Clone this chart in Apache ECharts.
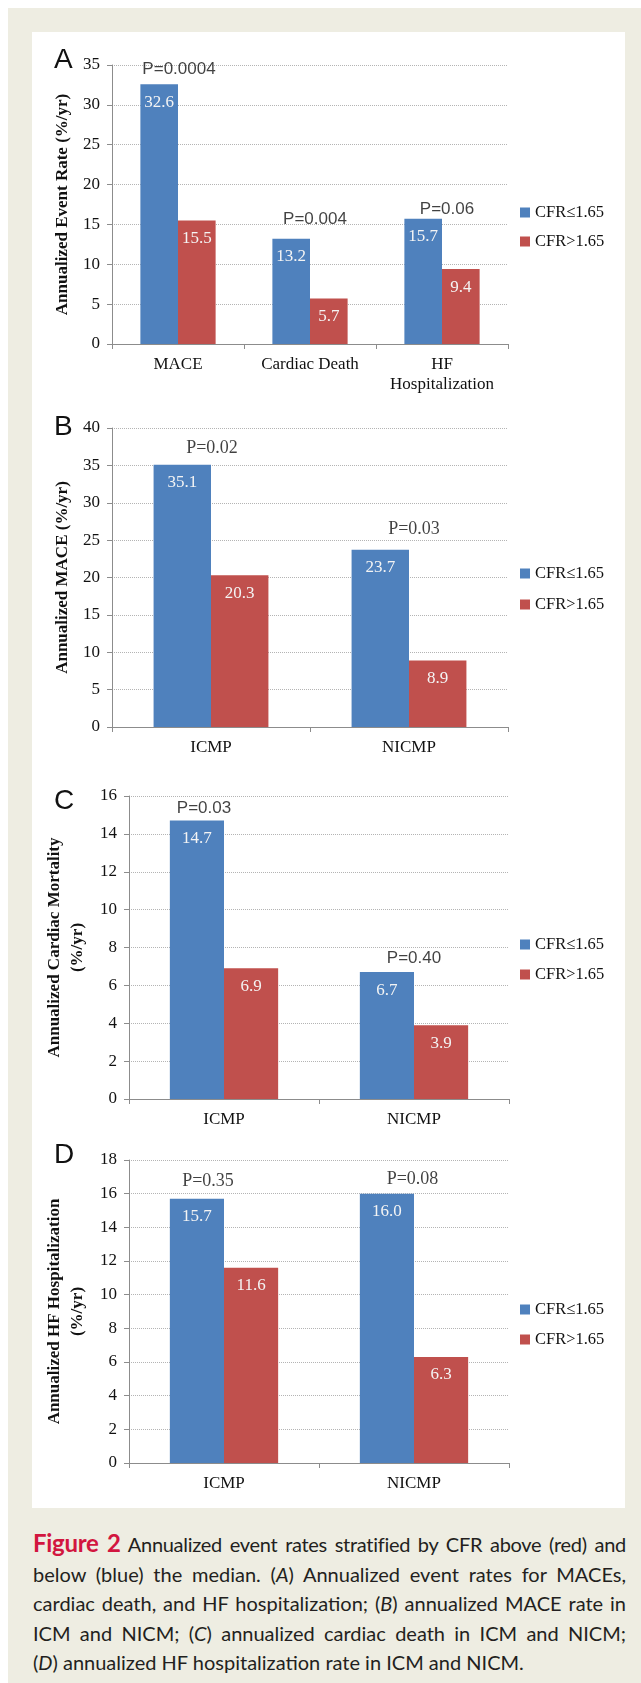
<!DOCTYPE html>
<html>
<head>
<meta charset="utf-8">
<script src="https://cdn.jsdelivr.net/npm/echarts/dist/echarts.min.js"></script>
<style>
html,body{margin:0;padding:0;background:#fff;}
#bg{position:absolute;left:8px;top:8px;width:633px;height:1675px;background:#eeede2;}
#chart{position:absolute;left:32px;top:32px;width:593px;height:1476px;background:#fff;}
#cap{position:absolute;left:33px;top:1528px;width:593px;font-family:Lato,'Open Sans',sans-serif;font-size:20px;line-height:29.5px;color:#231f20;}
#cap .l{display:block;text-align:justify;text-align-last:justify;}
#cap .l.last{text-align:left;text-align-last:left;}
#cap .fig{color:#d2163f;font-weight:bold;font-size:24px;}
</style>
</head>
<body>
<div id="bg"></div>
<div id="chart"></div>
<div id="cap">
<span class="l" style="letter-spacing:-0.3px"><span class="fig">Figure 2</span> Annualized event rates stratified by CFR above (red) and</span>
<span class="l">below (blue) the median. (<i>A</i>) Annualized event rates for MACEs,</span>
<span class="l">cardiac death, and HF hospitalization; (<i>B</i>) annualized MACE rate in</span>
<span class="l">ICM and NICM; (<i>C</i>) annualized cardiac death in ICM and NICM;</span>
<span class="l last">(<i>D</i>) annualized HF hospitalization rate in ICM and NICM.</span>
</div>
<script>
// ---- data ----
const seriesNames = ['CFR\u22641.65', 'CFR>1.65'];
const panelLetters = ['A', 'B', 'C', 'D'];

const catsA = ['MACE', 'Cardiac Death', 'HF\nHospitalization'];
const lowA = [32.6, 13.2, 15.7];
const highA = [15.5, 5.7, 9.4];
const pA = ['P=0.0004', 'P=0.004', 'P=0.06'];

const catsB = ['ICMP', 'NICMP'];
const lowB = [35.1, 23.7];
const highB = [20.3, 8.9];
const pB = ['P=0.02', 'P=0.03'];

const catsC = ['ICMP', 'NICMP'];
const lowC = [14.7, 6.7];
const highC = [6.9, 3.9];
const pC = ['P=0.03', 'P=0.40'];

const catsD = ['ICMP', 'NICMP'];
const lowD = [15.7, 16.0];
const highD = [11.6, 6.3];
const pD = ['P=0.35', 'P=0.08'];

const yMax = [35, 40, 16, 18];
const yStep = [5, 5, 2, 2];
const yNames = [
  'Annualized Event Rate (%/yr)',
  'Annualized MACE (%/yr)',
  'Annualized Cardiac Mortality\n(%/yr)',
  'Annualized HF Hospitalization\n(%/yr)'
];

// ---- layout / style ----
const SERIF = "'Liberation Serif', 'DejaVu Serif', serif";
const SANS = "'Liberation Sans', Arial, sans-serif";
const BLUE = '#4F81BD';
const RED = '#C0504D';
const AXIS = '#8c8c8c';
const TXT = '#111111';

const layouts = [
  {grid:{left:80, top:33, width:396, height:279}, gap:'43%', legendTop:172, legendGap:12, nameGap:38, nameLH:18, letterTop:14, pFont:SANS, pSize:17, pOff:[[1,-5],[5,-10],[5,0]]},
  {grid:{left:80, top:396, width:396, height:299}, gap:'42%', legendTop:533, legendGap:14, nameGap:38, nameLH:18, letterTop:381, pFont:SERIF, pSize:18, pOff:[[1,-7],[5,-11]]},
  {grid:{left:97, top:764, width:380, height:303}, gap:'43%', legendTop:904, legendGap:13, nameGap:32, nameLH:23, letterTop:755, pFont:SANS, pSize:17, pOff:[[-20,-3],[0,-4]]},
  {grid:{left:97, top:1128, width:380, height:303}, gap:'43%', legendTop:1269, legendGap:13, nameGap:32, nameLH:23, letterTop:1109, pFont:SERIF, pSize:18, pOff:[[-16,-8],[-1.5,-5]]}
];

const panels = [
  {cats:catsA, low:lowA, high:highA, p:pA},
  {cats:catsB, low:lowB, high:highB, p:pB},
  {cats:catsC, low:lowC, high:highC, p:pC},
  {cats:catsD, low:lowD, high:highD, p:pD}
];

const option = {
  animation: false,
  backgroundColor: '#fff',
  title: [], grid: [], xAxis: [], yAxis: [], legend: [], series: []
};

panels.forEach(function (pn, i) {
  const L = layouts[i];
  option.title.push({
    text: panelLetters[i], left: 22, top: L.letterTop, padding: 0,
    textStyle: {fontFamily: SANS, fontSize: 28, fontWeight: 'normal', color: '#111', lineHeight: 28}
  });
  option.grid.push(Object.assign({outerBoundsMode: 'none', containLabel: false}, L.grid));
  option.xAxis.push({
    type: 'category', gridIndex: i, data: pn.cats,
    axisLine: {show: true, lineStyle: {color: AXIS, width: 1}},
    axisTick: {show: true, length: 5, lineStyle: {color: AXIS}},
    axisLabel: {margin: 11, fontFamily: SERIF, fontSize: 17, color: TXT, lineHeight: 20, interval: 0},
    splitLine: {show: false}
  });
  option.yAxis.push({
    type: 'value', gridIndex: i, min: 0, max: yMax[i], interval: yStep[i],
    name: yNames[i], nameLocation: 'middle', nameRotate: 90, nameGap: L.nameGap,
    nameTextStyle: {fontFamily: SERIF, fontSize: 17, fontWeight: 'bold', color: TXT, lineHeight: L.nameLH, align: 'center'},
    axisLine: {show: true, lineStyle: {color: AXIS, width: 1}},
    axisTick: {show: true, length: 5, lineStyle: {color: AXIS}},
    axisLabel: {margin: 12, fontFamily: SERIF, fontSize: 17, color: TXT},
    splitLine: {show: true, lineStyle: {color: '#b4b4b4', type: 'dotted', width: 1}}
  });
  option.legend.push({
    data: seriesNames, orient: 'vertical', left: 488, top: L.legendTop, padding: 0,
    itemGap: L.legendGap, itemWidth: 10, itemHeight: 10, icon: 'rect',
    selectedMode: false,
    textStyle: {fontFamily: SERIF, fontSize: 16.5, color: TXT, lineHeight: 16}
  });
  const valLabel = {
    show: true, position: 'insideTop', distance: 10,
    fontFamily: SERIF, fontSize: 17, color: '#f4f4f4', lineHeight: 16,
    formatter: function (p) { return Number(p.value).toFixed(1); }
  };
  option.series.push({
    name: seriesNames[0], type: 'bar', xAxisIndex: i, yAxisIndex: i,
    data: pn.low, barGap: '0%', barCategoryGap: L.gap,
    itemStyle: {color: BLUE}, label: valLabel
  });
  option.series.push({
    name: seriesNames[1], type: 'bar', xAxisIndex: i, yAxisIndex: i,
    data: pn.high, barGap: '0%', barCategoryGap: L.gap,
    itemStyle: {color: RED}, label: valLabel
  });
  option.series.push({
    name: 'p' + i, type: 'scatter', xAxisIndex: i, yAxisIndex: i, silent: true, z: 5,
    symbolSize: 1, itemStyle: {color: 'rgba(0,0,0,0)'},
    data: pn.low.map(function (v, k) {
      return {value: [k, v], label: {offset: L.pOff[k]}};
    }),
    label: {
      show: true, position: 'top', distance: 0,
      fontFamily: L.pFont, fontSize: L.pSize, color: TXT, lineHeight: 18,
      formatter: function (p) { return pn.p[p.dataIndex]; }
    }
  });
});

const chart = echarts.init(document.getElementById('chart'), null, {renderer: 'canvas'});
chart.setOption(option);
</script>
</body>
</html>
